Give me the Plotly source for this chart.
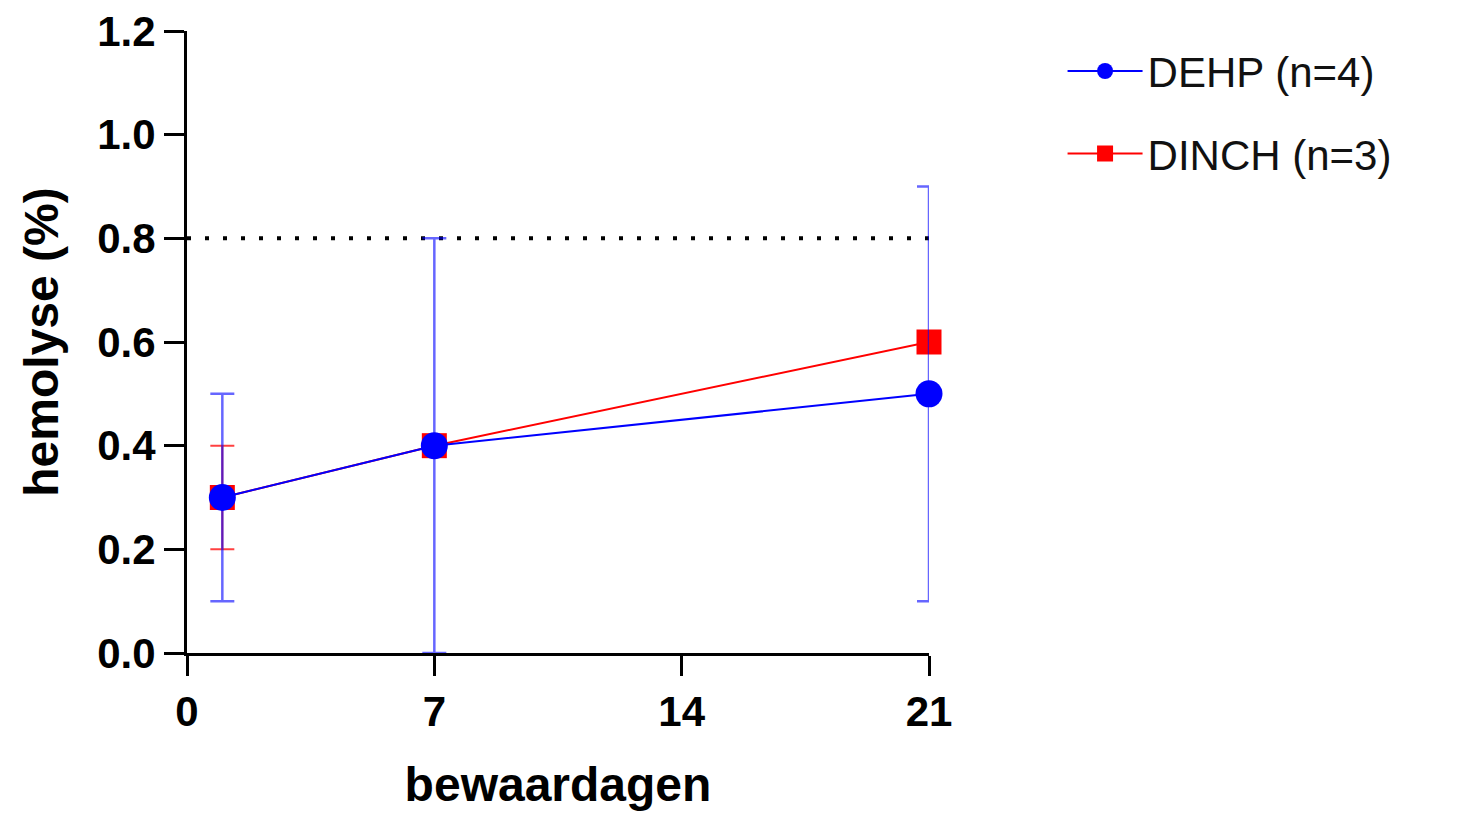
import plotly.graph_objects as go

days = [1, 7, 21]
dehp_mean = [0.3, 0.4, 0.5]
dehp_sd = [0.2, 0.4, 0.4]
dinch_mean = [0.3, 0.4, 0.6]
dinch_sd = [0.1, 0.0, 0.0]
threshold = 0.8
x_ticks = [0, 7, 14, 21]
y_ticks = [0.0, 0.2, 0.4, 0.6, 0.8, 1.0, 1.2]

FONT = "Arial, Liberation Sans, sans-serif"

fig = go.Figure()

fig.add_trace(go.Scatter(
    x=days, y=dinch_mean, name="DINCH (n=3)", mode="lines+markers",
    line=dict(color="#ff0000", width=2),
    marker=dict(symbol="square", size=25, color="#ff0000"),
    error_y=dict(type="data", array=dinch_sd, visible=True, color="rgba(255,0,0,0.75)", thickness=2, width=12),
    cliponaxis=False, legendrank=2, legendgroup="b",
))
fig.add_trace(go.Scatter(
    x=days, y=dehp_mean, name="DEHP (n=4)", mode="lines+markers",
    line=dict(color="#0000ff", width=2),
    marker=dict(symbol="circle", size=27, color="#0000ff"),
    error_y=dict(type="data", array=dehp_sd, visible=True, color="rgba(0,0,255,0.6)", thickness=2.5, width=12),
    cliponaxis=False, legendrank=1, legendgroup="a",
))

fig.add_shape(type="line", xref="x", yref="y", x0=x_ticks[0], x1=x_ticks[-1], y0=threshold, y1=threshold,
              line=dict(color="black", width=4, dash="4px,14px"), layer="below")

fig.update_layout(
    width=1466, height=803,
    margin=dict(l=179, r=545, t=23, b=158, autoexpand=False),
    paper_bgcolor="white", plot_bgcolor="white",
    showlegend=True,
    legend=dict(x=1.18, y=0.99, xanchor="left", yanchor="top",
                font=dict(family=FONT, size=42, color="#111"),
                itemsizing="trace", itemwidth=75, traceorder="grouped", tracegroupgap=25,
                bgcolor="rgba(0,0,0,0)"),
    font=dict(family=FONT, color="black"),
)

fig.update_xaxes(
    range=[0, 21], tickvals=x_ticks, ticktext=[str(t) for t in x_ticks],
    showgrid=False, zeroline=False, showline=True, linecolor="black", linewidth=3,
    ticks="outside", ticklen=20, tickwidth=3, tickcolor="black", automargin=False,
    tickfont=dict(family=FONT, size=42, weight="bold"), ticklabeloverflow="allow",
    title=dict(text="bewaardagen", font=dict(family=FONT, size=48, weight="bold"), standoff=46),
)
fig.update_yaxes(
    range=[0, 1.2], tickvals=y_ticks, ticktext=[f"{t:.1f}" for t in y_ticks],
    showgrid=False, zeroline=False, showline=True, linecolor="black", linewidth=3,
    ticks="outside", ticklen=20, tickwidth=3, tickcolor="black", automargin=False,
    tickfont=dict(family=FONT, size=42, weight="bold"), ticklabeloverflow="allow",
    title=dict(text="hemolyse (%)", font=dict(family=FONT, size=48, weight="bold"), standoff=24),
)

fig.write_html("out.html")
